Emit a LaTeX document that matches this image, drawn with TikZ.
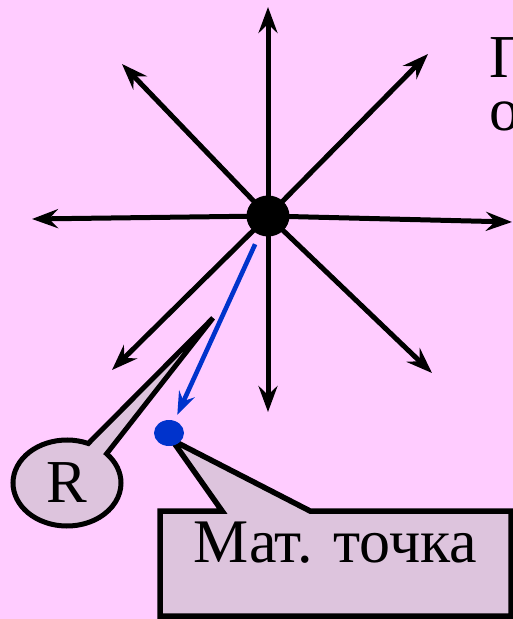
\documentclass[tikz,border=0pt]{standalone}
\usepackage{fontspec}
\setmainfont{Liberation Serif}
\usetikzlibrary{arrows.meta,shapes.callouts,shapes.geometric}
\definecolor{bgpink}{RGB}{255,204,255}
\definecolor{callfill}{RGB}{221,196,221}
\definecolor{ptblue}{RGB}{0,51,204}
\begin{document}
\begin{tikzpicture}[x=1pt,y=-1pt,
  fieldarrow/.style={draw=black,line width=5pt,-{Stealth[length=26pt,width=19pt,inset=9pt]}},
  bluearrow/.style={draw=ptblue,line width=4.6pt,-{Stealth[length=23pt,width=17pt,inset=8pt]}},
  bigtext/.style={font=\fontsize{61}{61}\selectfont},
  callbox/.style={draw=black,line width=5.5pt,fill=callfill,inner sep=0pt}]
\fill[bgpink] (0,0) rectangle (513,619);
\useasboundingbox (0,0) rectangle (513,619);
% field lines
\coordinate (o) at (268,216);
\coordinate (tu) at (268,7);
\coordinate (tl) at (32,219);
\coordinate (tr) at (512,222);
\coordinate (tul) at (122,64);
\coordinate (tur) at (428,54);
\coordinate (tdl) at (112,370);
\coordinate (td) at (268,412);
\coordinate (tdr) at (432,373);
\foreach \t in {tu,tl,tr,tul,tur,tdl,td,tdr}{\draw[fieldarrow] (o) -- (\t);}
\node[ellipse,fill=black,minimum width=43pt,minimum height=41pt,inner sep=0pt] (c) at (o) {};
% top-right text (cut at the edge)
\node[bigtext,anchor=base west,inner sep=0pt] (t1) at (489,77) {П};
\node[bigtext,anchor=base west,inner sep=0pt] (t2) at (489,130) {о};
% R callout
\node[ellipse callout,callbox,line width=5pt,bigtext,minimum width=108pt,minimum height=86pt,
  callout absolute pointer={(213,318)},callout pointer arc=24] (rlabel) at (67,483) {R};
% point callout
\node[rectangle callout,callbox,font=\fontsize{62}{62}\selectfont,minimum width=351pt,
  text height=51pt,text depth=54pt,
  callout absolute pointer={(172,440)},callout pointer width=88pt] (mlabel) at (335.5,563.5) {Мат. точка};
% material point
\node[ellipse,fill=ptblue,minimum width=30pt,minimum height=26pt,inner sep=0pt] (pt) at (169,433) {};
\draw[bluearrow,shorten <=31pt,shorten >=20pt] (c.center) -- (pt.center);
\end{tikzpicture}
\end{document}
